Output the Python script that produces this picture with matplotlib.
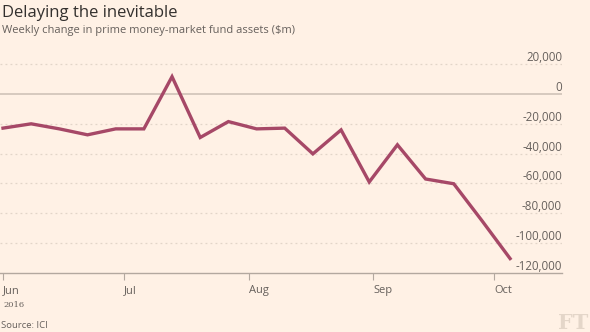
import matplotlib
matplotlib.use("Agg")
import matplotlib.pyplot as plt
import matplotlib.dates as mdates
import matplotlib.transforms as mtransforms
import pandas as pd

# ---- data ----
dates = ["2016-06-01", "2016-06-08", "2016-06-15", "2016-06-22", "2016-06-29",
         "2016-07-06", "2016-07-13", "2016-07-20", "2016-07-27", "2016-08-03",
         "2016-08-10", "2016-08-17", "2016-08-24", "2016-08-31", "2016-09-07",
         "2016-09-14", "2016-09-21", "2016-09-28", "2016-10-05"]
values = [-22800, -19900, -23300, -27300, -23300,
          -23300, 11800, -29100, -18400, -23300,
          -22800, -40100, -24000, -59000, -34000,
          -57000, -60200, -85000, -110500]
ytick_values = [20000, 0, -20000, -40000, -60000, -80000, -100000, -120000]
ytick_labels = ["20,000", "0", "-20,000", "-40,000", "-60,000", "-80,000", "-100,000", "-120,000"]
xtick_dates = ["2016-06-01", "2016-07-01", "2016-08-01", "2016-09-01", "2016-10-01"]
xtick_labels = ["Jun", "Jul", "Aug", "Sep", "Oct"]

title = "Delaying the inevitable"
subtitle = "Weekly change in prime money-market fund assets ($m)"
source = "Source: ICI"

BG = "#fff1e5"
LINE = "#a64867"
GREY = "#66605c"

plt.rcParams['font.family'] = ['Open Sans', 'DejaVu Sans']

W, H = 590, 332
fig = plt.figure(figsize=(W / 100, H / 100), dpi=100, facecolor=BG)

# axes spans pixel x 0..562, y (top) 49.6 .. 272.7
left, right = 0 / W, 562 / W
bottom, top = (H - 272.7) / H, (H - 49.6) / H
ax = fig.add_axes([left, bottom, right - left, top - bottom], facecolor=BG)

x = pd.to_datetime(dates)
xt = pd.to_datetime(xtick_dates)

jun1 = mdates.date2num(pd.Timestamp("2016-06-01"))
px_per_day = 491 / 122.0
ax.set_xlim(jun1 - 3 / px_per_day, jun1 + (562 - 3) / px_per_day)
ax.set_ylim(-120000, 30000)

# gridlines
for v in ytick_values:
    if v == 0:
        ax.axhline(v, color="#cbbfb4", lw=1.1, zorder=1)
    elif v != -120000:
        ax.axhline(v, color="#e2d5c8", lw=0.9, ls=(0, (1.5, 2.5)), zorder=1)

ax.plot(x, values, color=LINE, lw=2.4, solid_joinstyle="miter", zorder=3)

# y labels above gridlines, right aligned
trans = mtransforms.blended_transform_factory(ax.transAxes, ax.transData)
for v, lab in zip(ytick_values, ytick_labels):
    ax.text(1.0, v, lab, transform=trans, ha="right", va="bottom",
            fontsize=8.3, color=GREY, zorder=4)

# spines
for s in ["top", "right", "left"]:
    ax.spines[s].set_visible(False)
ax.spines["bottom"].set_color("#b3a89f")
ax.spines["bottom"].set_linewidth(1.0)
ax.set_yticks([])
ax.set_xticks(mdates.date2num(xt))
ax.set_xticklabels(xtick_labels)
ax.tick_params(axis="x", direction="out", length=5, width=0.8, color="#b3a89f",
               labelsize=8, labelcolor=GREY, pad=4)
for lab in ax.get_xticklabels():
    lab.set_horizontalalignment("left")

fig.text(2 / W, 1 - 13 / H, title, fontsize=12, color="#33302e", va="center", ha="left")
fig.text(2 / W, 1 - 30.5 / H, subtitle, fontsize=8.05, color=GREY, va="center", ha="left")
fig.text(3 / W, 1 - 305 / H, "2016", fontsize=6, color=GREY, va="center", ha="left",
         family=["DejaVu Serif"])
fig.text(1 / W, 1 - 325 / H, source, fontsize=6.8, color=GREY, va="center", ha="left")
fig.text(588 / W, 1 - 323 / H, "FT", fontsize=15, color="#e4d6c9", va="center", ha="right",
         family=["DejaVu Serif"], weight="bold")

fig.savefig("out.png", dpi=100, facecolor=BG)
